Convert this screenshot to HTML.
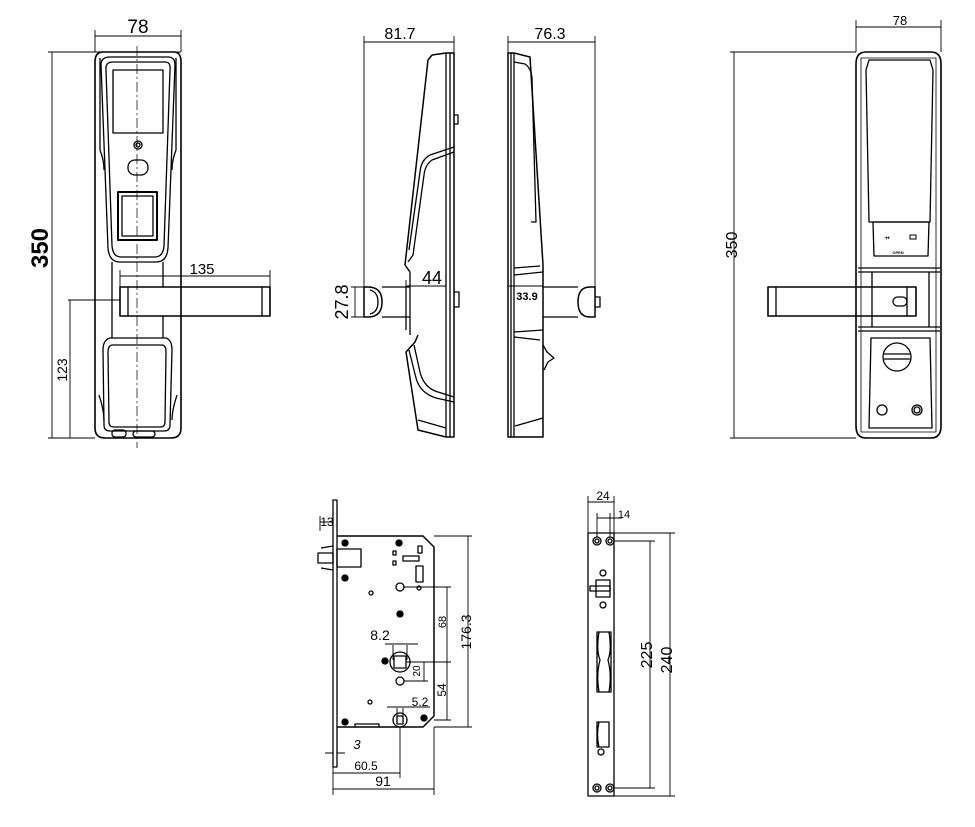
<!DOCTYPE html>
<html><head><meta charset="utf-8"><style>
html,body{margin:0;padding:0;background:#fff;}
svg{display:block;}
text{font-family:"Liberation Sans",sans-serif;fill:#000;}
</style></head><body>
<svg width="975" height="827" viewBox="0 0 975 827" xmlns="http://www.w3.org/2000/svg">
<g fill="none" stroke="#000" stroke-width="1.3" stroke-linejoin="round">
<!-- ===== VIEW 1 FRONT ===== -->
<path d="M103,52 H174 Q181,52 181,62 V428 Q181,438 171,438 H105 Q95,438 95,428 V62 Q95,52 103,52 Z" stroke-width="1.6"/>
<path d="M100,58 V150 Q104,160 104,170 M176,58 V150 Q172,160 172,170"/>
<path d="M110,57 H168 Q175,57 175,65 L168,248 Q167,262 156,262 H120 Q109,262 108,248 L101,65 Q101,57 110,57 Z"/>
<path d="M113,62 H165 Q171,62 170,70 L164,246 Q163,257 155,257 H121 Q113,257 112,246 L106,70 Q105,62 113,62 Z"/>
<rect x="113" y="70" width="50" height="63"/>
<circle cx="138" cy="145" r="4"/><circle cx="138" cy="145" r="2"/>
<rect x="128" y="160" width="20" height="15" rx="7"/>
<rect x="118" y="192" width="39" height="48" stroke-width="2"/>
<rect x="122" y="196" width="31" height="40"/>
<path d="M112,262 V338 M163,262 V287 M163,316 V338"/>
<rect x="120" y="287" width="150" height="29" stroke-width="1.6"/>
<path d="M128,287 V316 M262,287 V316"/>
<path d="M110,338 H166 Q172,340 172,350 L170,425 Q170,431 164,431 H110 Q104,431 104,425 L103,350 Q103,340 110,338 Z"/>
<path d="M113,345 H162 Q166,345 166,352 L165,422 Q165,427 160,427 H114 Q109,427 109,422 L108,352 Q108,345 113,345 Z"/>
<path d="M99,395 Q104,410 104,420 M177,395 Q172,410 172,420"/>
<rect x="112" y="430" width="14" height="7" rx="3"/><rect x="133" y="431" width="22" height="6" rx="3"/>
<!-- dims v1 -->
<g stroke-width="0.9">
<path d="M95,52 V30 M181,52 V30 M95,36 H181"/>
<path d="M181,52 H48 M95,438 H48 M52,52 V438"/>
<path d="M120,287 V270 M270,287 V270 M120,276 H270"/>
<path d="M68,300 H120 M70,300 V438"/>
</g>
<path d="M137,46 V448" stroke-width="0.7" stroke-dasharray="10,3,2,3"/>

<!-- ===== VIEW 2 SIDE ===== -->
<path d="M432,55 L446,53 H454 V437 H446 L418,430 L406,352 L415,342 L418,335 M432,55 L428,60 L405,265 L410,272" stroke-width="1.5"/>
<path d="M446,53 V437 M450,53 V437" />
<path d="M454,152 L432,160 Q425,165 424,175 L413,255 L408,262"/>
<path d="M454,147 L430,155 Q421,160 420,172 L409,250"/>
<path d="M414,345 L420,372 Q424,388 438,392 L454,397"/>
<path d="M409,350 L416,378 Q420,393 436,398 L454,402"/>
<path d="M418,420 L446,428"/>
<path d="M454,115 H458 V124 H454 M454,292 H459 V307 H454"/>
<path d="M410,287 H382 M410,317 H382 M410,272 V335 M406,287 V330"/>
<path d="M368,287 Q382,287 382,302 Q382,317 368,317 H364 V287 Z" stroke-width="1.5"/>
<path d="M370,290 Q378,292 378,302 Q378,312 370,314"/>
<g stroke-width="0.9">
<path d="M364,287 V36 M454,53 V36 M364,42 H454"/>
<path d="M406,286 H446 M406,280 V290"/>
<path d="M351,287 H364 M351,317 H364 M355,287 V317"/>
</g>

<!-- ===== VIEW 3 SIDE ===== -->
<path d="M508,53 H514 L530,57 L543,265 V437 H508 Z" stroke-width="1.5"/>
<path d="M511,53 V437 M514,53 V437"/>
<path d="M514,62 L525,64 Q531,68 532,78 L536,222 H531"/>
<path d="M514,268 L540,266 M514,275 L543,272 M514,332 L543,330 M514,337 L540,340 M515,426 L543,418"/>
<path d="M543,345 L547,352 L554,358 L548,362 L544,370"/>
<path d="M543,287 H578 M543,317 H578"/>
<path d="M590,287 Q578,287 578,302 Q578,317 590,317 H595 V287 Z" stroke-width="1.5"/>
<path d="M595,297 H600 V307 H595"/>
<g stroke-width="0.9">
<path d="M508,53 V36 M595,287 V36 M508,42 H595"/>
<path d="M508,286 H543"/>
</g>

<!-- ===== VIEW 4 BACK ===== -->
<path d="M866,52 H931 Q941,52 941,64 V426 Q941,438 931,438 H866 Q856,438 856,426 V64 Q856,52 866,52 Z" stroke-width="1.6"/>
<path d="M861,58 H936 V432 H861 Z" stroke-width="0.8"/>
<path d="M869,60 H930 L933,70 L930,222 H869 L866,70 Z"/>
<path d="M873,222 H929 L928,256 H874 Z"/>
<path d="M858,268 H940 M858,272 H940 M858,327 H940 M858,331 H940"/>
<path d="M872,272 V327 M929,272 V327"/>
<rect x="768" y="287" width="148" height="29" stroke-width="1.6"/>
<path d="M776,287 V316 M907,287 V316"/>
<rect x="893" y="297" width="14" height="9" rx="4.5"/>
<path d="M871,338 H930 L932,428 H869 Z"/>
<circle cx="897" cy="357" r="14"/><path d="M884,354 H910 M884,359 H910"/>
<circle cx="882" cy="410" r="5"/><circle cx="917" cy="410" r="5"/><circle cx="917" cy="410" r="3"/>
<g stroke-width="0.9">
<path d="M856,52 V20 M941,52 V20 M856,27 H941"/>
<path d="M856,52 H730 M856,438 H730 M734,52 V438"/>
</g>

<!-- ===== MORTISE ===== -->
<rect x="333" y="500" width="4" height="267" stroke-width="1.3"/>
<path d="M337,536 H423 L434,547 V716 L423,727 H337" stroke-width="1.5"/>
<rect x="318" y="553" width="15" height="10"/><rect x="337" y="549" width="24" height="18"/>
<path d="M321,548 L333,546 M321,568 L333,570"/>
<g fill="#000"><circle cx="345" cy="543" r="3"/><circle cx="345" cy="578" r="3"/><circle cx="399" cy="543" r="3"/><circle cx="400" cy="614" r="3"/><circle cx="385" cy="661" r="3"/><circle cx="345" cy="722" r="3"/><circle cx="424" cy="718" r="3"/></g>
<rect x="393" y="551" width="3" height="4"/><rect x="393" y="561" width="3" height="4"/><rect x="418" y="546" width="4" height="7"/>
<rect x="403" y="556" width="16" height="5"/><rect x="416" y="566" width="7" height="16"/>
<circle cx="400" cy="587" r="4"/><circle cx="419" cy="588" r="2"/><circle cx="371" cy="593" r="2"/>
<circle cx="400" cy="662" r="10"/><rect x="394" y="656" width="12" height="12"/>
<circle cx="400" cy="681" r="4"/><circle cx="370" cy="702" r="2"/>
<circle cx="400" cy="720" r="7"/><rect x="397" y="716" width="6" height="8"/>
<path d="M355,727 V724 H379 V727"/>
<g stroke-width="0.9">
<path d="M320,516 V531 M320,522 H333"/>
<path d="M434,536 H472 M434,727 H472 M468,536 V727"/>
<path d="M404,587 H451 M406,662 H451 M434,720 H451 M447,587 V720"/>
<path d="M406,662 H428 M404,681 H428 M424,662 V681"/>
<path d="M393,645 V660 M407,645 V660 M385,644 H418"/>
<path d="M397,708 V716 M403,708 V716 M387,707 H430"/>
<path d="M337,727 V760 M333,753 H325 M337,753 H345"/>
<path d="M333,767 V795 M400,727 V778 M434,727 V795 M333,773 H400 M333,789 H434"/>
</g>

<!-- ===== STRIKE ===== -->
<rect x="588" y="533" width="26" height="263" stroke-width="1.3"/>
<circle cx="597" cy="541" r="4"/><circle cx="597" cy="541" r="2"/><circle cx="610" cy="541" r="4"/><circle cx="610" cy="541" r="2"/>
<circle cx="597" cy="788" r="4"/><circle cx="597" cy="788" r="2"/><circle cx="610" cy="788" r="4"/><circle cx="610" cy="788" r="2"/>
<circle cx="603" cy="573" r="3"/><circle cx="603" cy="605" r="3"/>
<rect x="596" y="580" width="14" height="17"/><rect x="590" y="586" width="20" height="5"/>
<path d="M597,632 H611 V692 H597 Z M599,632 Q596,650 600,660 Q596,675 599,692 M609,632 Q612,650 608,660 Q612,675 609,692"/>
<path d="M597,722 H609 V747 H597 Z M599,722 Q596,735 599,747"/>
<circle cx="601" cy="752" r="3"/>
<g stroke-width="0.9">
<path d="M588,533 V496 M614,533 V496 M588,502 H614"/>
<path d="M597,537 V513 M610,537 V513 M597,518 H622"/>
<path d="M614,541 H655 M614,788 H655 M650,541 V788"/>
<path d="M614,533 H675 M614,796 H675 M670,533 V796"/>
</g>
</g>

<!-- ===== TEXT ===== -->
<text x="138" y="33" font-size="19" text-anchor="middle">78</text>
<text transform="translate(48,248) rotate(-90)" font-size="24" font-weight="bold" text-anchor="middle">350</text>
<text x="202" y="274" font-size="15" text-anchor="middle">135</text>
<text transform="translate(67,370) rotate(-90)" font-size="14" text-anchor="middle">123</text>
<text x="400" y="39" font-size="16" text-anchor="middle">81.7</text>
<text x="432" y="284" font-size="18" text-anchor="middle">44</text>
<text transform="translate(348,302) rotate(-90)" font-size="18" text-anchor="middle">27.8</text>
<text x="550" y="39" font-size="16" text-anchor="middle">76.3</text>
<text x="527" y="300" font-size="11" font-weight="bold" text-anchor="middle">33.9</text>
<text x="900" y="25" font-size="13" text-anchor="middle">78</text>
<text transform="translate(737,245) rotate(-90)" font-size="16" text-anchor="middle">350</text>
<text x="898" y="254" font-size="4" font-weight="bold" text-anchor="middle">OPEN</text>
<text x="884" y="240" font-size="7">⇸</text>
<rect x="910" y="235" width="6" height="4" fill="none" stroke="#000" stroke-width="1"/>
<text x="327" y="526" font-size="12" text-anchor="middle">13</text>
<text transform="translate(471,632) rotate(-90)" font-size="14" text-anchor="middle">176.3</text>
<text transform="translate(446,622) rotate(-90)" font-size="11" text-anchor="middle">68</text>
<text transform="translate(446,690) rotate(-90)" font-size="12" text-anchor="middle">54</text>
<text transform="translate(420,671) rotate(-90)" font-size="10" text-anchor="middle">20</text>
<text x="380" y="640" font-size="14" text-anchor="middle">8.2</text>
<text x="420" y="706" font-size="12" text-anchor="middle">5.2</text>
<text x="357" y="749" font-size="13" font-style="italic" text-anchor="middle">3</text>
<text x="366" y="770" font-size="12" text-anchor="middle">60.5</text>
<text x="383" y="786" font-size="14" text-anchor="middle">91</text>
<text x="603" y="500" font-size="12" text-anchor="middle">24</text>
<text x="624" y="518" font-size="11" text-anchor="middle">14</text>
<text transform="translate(652,655) rotate(-90)" font-size="16" text-anchor="middle">225</text>
<text transform="translate(672,660) rotate(-90)" font-size="16" text-anchor="middle">240</text>
</svg>
</body></html>
